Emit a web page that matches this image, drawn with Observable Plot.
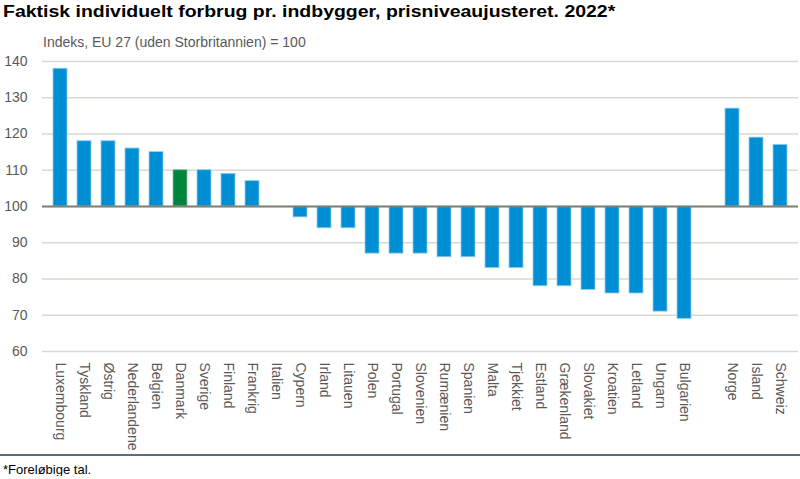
<!DOCTYPE html>
<html><head><meta charset="utf-8">
<script src="https://cdn.jsdelivr.net/npm/d3@7"></script>
<script src="https://cdn.jsdelivr.net/npm/@observablehq/plot@0.6"></script>
<style>
body{margin:0;background:#fff;font-family:"Liberation Sans",Arial,sans-serif;}
#wrap{width:800px;overflow:hidden;}
.title{height:26px;box-sizing:border-box;padding:3px 0 0 3px;font-size:16.8px;line-height:17px;font-weight:bold;color:#000;white-space:nowrap;}
.title span{display:inline-block;transform:scaleX(1.16);transform-origin:0 50%;}
.sub{height:23px;box-sizing:border-box;padding:9px 0 0 43px;font-size:14px;line-height:14px;color:#595959;white-space:nowrap;}
#chart svg{display:block;}
.sep{border-top:2px solid #5d6d78;}
.foot{padding:7px 0 0 3px;font-size:13px;line-height:13px;color:#000;}
</style></head>
<body>
<div id="wrap">
  <div class="title"><span>Faktisk individuelt forbrug pr. indbygger, prisniveaujusteret. 2022*</span></div>
  <div class="sub">Indeks, EU 27 (uden Storbritannien) = 100</div>
  <div id="chart"></div>
  <div class="sep"></div>
  <div class="foot">*Foreløbige tal.</div>
</div>
<script>
const euCountries = ["Luxembourg","Tyskland","Østrig","Nederlandene","Belgien","Danmark","Sverige","Finland","Frankrig","Italien","Cypern","Irland","Litauen","Polen","Portugal","Slovenien","Rumænien","Spanien","Malta","Tjekkiet","Estland","Grækenland","Slovakiet","Kroatien","Letland","Ungarn","Bulgarien"];
const euValues = [138,118,118,116,115,110,110,109,107,100,97,94,94,87,87,87,86,86,83,83,78,78,77,76,76,71,69];
const otherCountries = ["Norge","Island","Schweiz"];
const otherValues = [127,119,117];
const gapLabel = " ";
const highlight = "Danmark";
const baseline = 100;
const yTicks = [60,70,80,90,100,110,120,130,140];

const data = [
  ...euCountries.map((c,i)=>({country:c, value:euValues[i]})),
  ...otherCountries.map((c,i)=>({country:c, value:otherValues[i]}))
];
const domain = [...euCountries, gapLabel, ...otherCountries];

const chart = Plot.plot({
  width: 800, height: 405,
  marginTop: 12, marginBottom: 103, marginLeft: 42, marginRight: 2,
  style: {fontFamily: "Liberation Sans, Arial, sans-serif", fontSize: "14px", color: "#595959", background: "#fff"},
  x: {domain, paddingInner: 0.4, paddingOuter: 0.2, label: null},
  y: {domain: [60,140], label: null},
  marks: [
    Plot.gridY(yTicks, {stroke: "#d9d9d2", strokeOpacity: 1, strokeWidth: 1.5}),
    Plot.barY(data, {x: "country", y1: baseline, y2: "value",
      fill: d => d.country === highlight ? "#00843c" : "#008fd5",
      stroke: d => d.country === highlight ? "#7fc19d" : "#8fcdef", strokeWidth: 0.8}),
    Plot.ruleY([baseline], {stroke: "#7f7f75", strokeWidth: 2}),
    Plot.axisX({tickRotate: 90, tickSize: 0, tickPadding: 11, fontSize: 14, fill: "#595959"}),
    Plot.axisY(yTicks, {tickSize: 0, tickPadding: 15, fontSize: 14, fill: "#595959"})
  ]
});
document.getElementById("chart").appendChild(chart);
</script>
</body></html>
